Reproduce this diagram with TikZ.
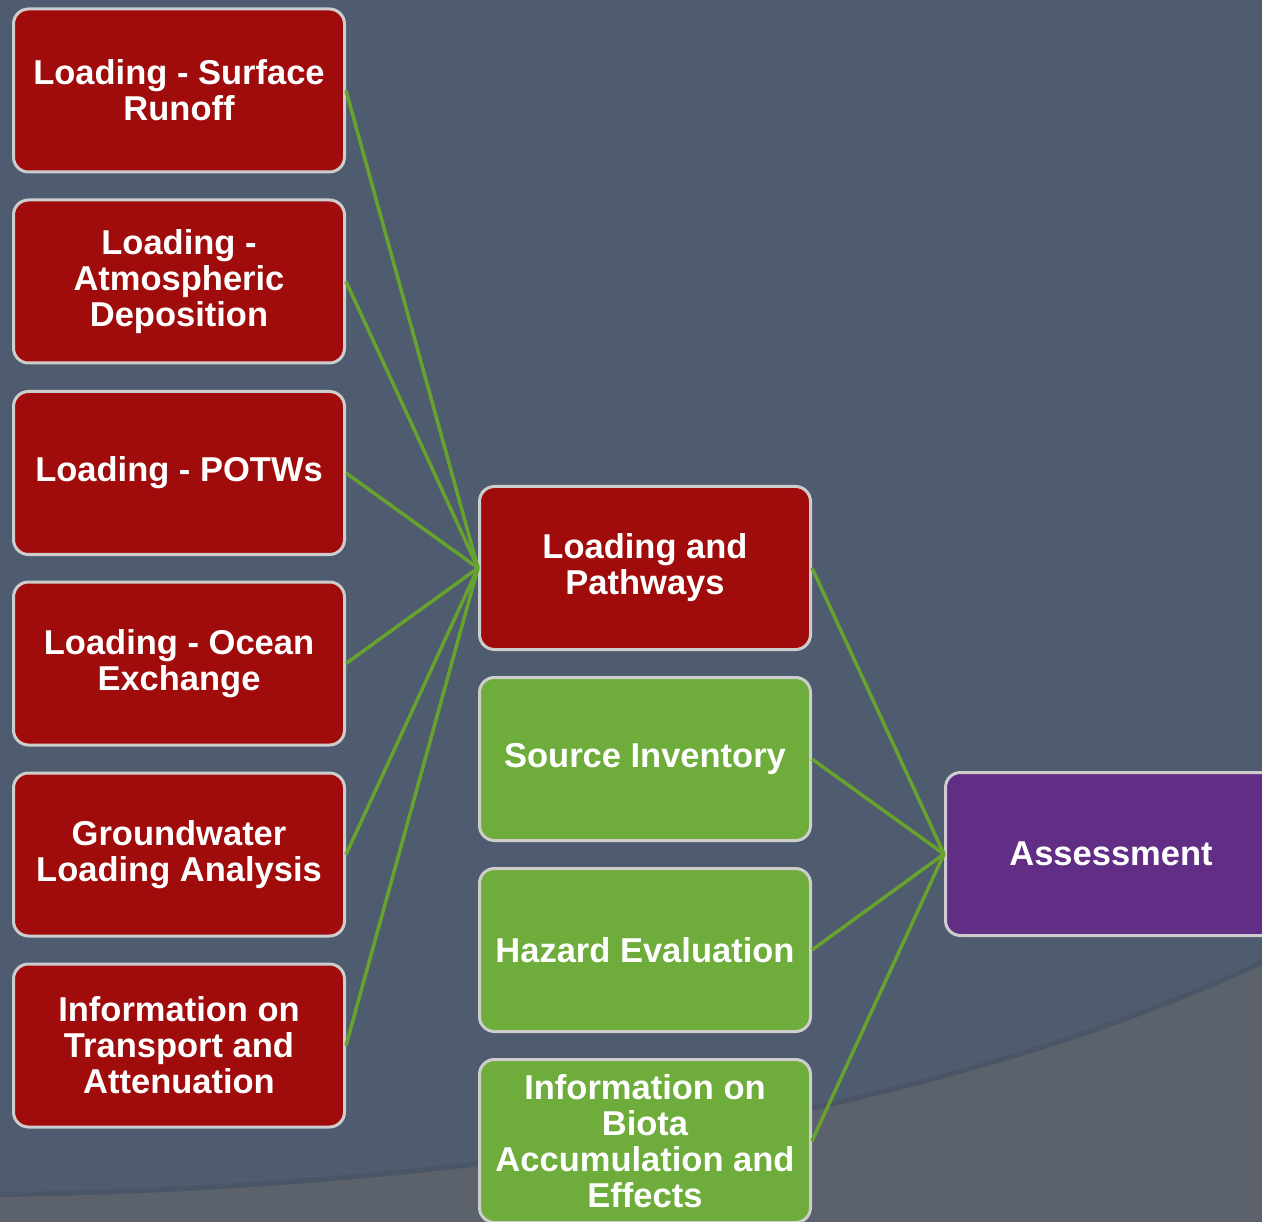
\documentclass[tikz,border=0pt]{standalone}
\usepackage{fontspec}
\setmainfont{Liberation Sans}
\definecolor{bgblue}{HTML}{4F5B6E}
\definecolor{bggray}{HTML}{5B626C}
\definecolor{bgshadow}{HTML}{46505F}
\definecolor{boxred}{HTML}{A00B0B}
\definecolor{boxgreen}{HTML}{6EAC3B}
\definecolor{boxpurple}{HTML}{622D85}
\definecolor{boxborder}{HTML}{CDCDCD}
\definecolor{linkgreen}{HTML}{66A22E}
\tikzset{
  card/.style={draw=boxborder, line width=3pt, rounded corners=15pt,
    minimum width=331pt, minimum height=163pt, inner sep=0pt,
    align=center, text=white, font=\fontsize{34.5}{36}\selectfont\bfseries},
  redcard/.style={card, fill=boxred},
  greencard/.style={card, fill=boxgreen},
  purplecard/.style={card, fill=boxpurple},
  link/.style={draw=linkgreen, line width=3.5pt}
}
\begin{document}
\begin{tikzpicture}[x=1pt,y=-1pt]
\useasboundingbox (0,0) rectangle (1262,1222);
\clip (0,0) rectangle (1262,1222);
\fill[bgblue] (0,0) rectangle (1262,1222);
\fill[bggray] (0,1197) .. controls (500,1190) and (950,1110) .. (1262,965) -- (1262,1222) -- (0,1222) -- cycle;
\draw[bgshadow, line width=5pt, opacity=0.5] (0,1194.5) .. controls (500,1187.5) and (950,1107.5) .. (1262,962.5);

\node[redcard] (l1) at (179,90.5) {Loading - Surface\\Runoff};
\node[redcard] (l2) at (179,281.5) {Loading -\\Atmospheric\\Deposition};
\node[redcard] (l3) at (179,473) {Loading - POTWs};
\node[redcard] (l4) at (179,663.5) {Loading - Ocean\\Exchange};
\node[redcard] (l5) at (179,854.5) {Groundwater\\Loading Analysis};
\node[redcard] (l6) at (179,1045.5) {Information on\\Transport and\\Attenuation};

\node[redcard] (m1) at (645,568) {Loading and\\Pathways};
\node[greencard] (m2) at (645,759) {Source Inventory};
\node[greencard] (m3) at (645,950) {Hazard Evaluation};
\node[greencard] (m4) at (645,1141) {Information on\\Biota\\Accumulation and\\Effects};

\node[purplecard] (a) at (1111,854) {Assessment};

\foreach \n in {l1,l2,l3,l4,l5,l6}
  \draw[link] (\n.east) -- (m1.west);
\foreach \n in {m1,m2,m3,m4}
  \draw[link] (\n.east) -- (a.west);
\end{tikzpicture}
\end{document}
